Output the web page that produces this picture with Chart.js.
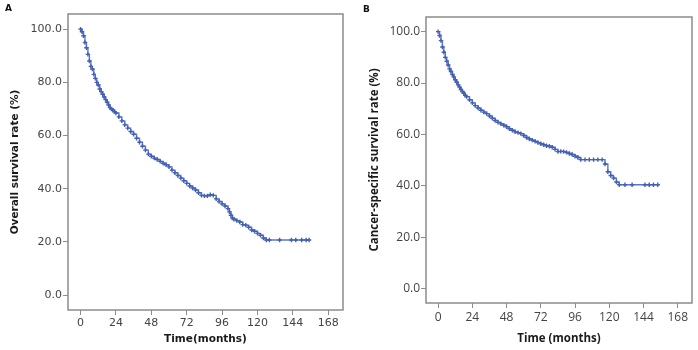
<!DOCTYPE html>
<html>
<head>
<meta charset="utf-8">
<script src="https://cdn.jsdelivr.net/npm/chart.js@4.4.1/dist/chart.umd.min.js"></script>
<style>
  body { margin: 0; background: #fff; }
  .panel { position: absolute; top: 0; width: 349px; height: 350px; }
  .tag { position: absolute; font: bold 9px "DejaVu Sans", sans-serif; color: #111; }
</style>
</head>
<body>
<div class="panel" style="left:0"><canvas id="chartA" width="349" height="350"></canvas></div>
<div class="panel" style="left:349px"><canvas id="chartB" width="349" height="350"></canvas></div>
<div class="tag" style="left:5px;top:3px">A</div>
<div class="tag" style="left:363px;top:4px">B</div>
<script>
const xTicks = [0, 24, 48, 72, 96, 120, 144, 168];
const yTicks = [0, 20, 40, 60, 80, 100];

// Panel A - overall survival
const monthsA = [0, 1, 2, 3, 4, 5, 6, 7, 8, 9, 10, 11, 12, 13, 14, 15, 16, 17, 18, 19, 20, 21, 22, 23, 24,
  26, 28, 30, 32, 34, 36, 38, 40, 42, 44, 46, 48, 50, 52, 54, 56, 58, 60, 62, 64, 66, 68, 70, 72, 74, 76, 78,
  80, 82, 84, 86, 88, 90, 92, 94, 96, 98, 100, 101, 102, 103, 104, 106, 108, 110, 112, 114, 116, 118, 120, 122,
  124, 126, 128, 135, 143, 146, 150, 153, 155];
const survA = [100, 99, 97.5, 95, 93, 90.5, 88, 86, 85, 83, 81.5, 80, 79, 77.5, 76.5, 75.5, 74.5, 73.5, 72.5, 71.5, 70.5, 70, 69.5, 69, 68.5,
  67, 65.5, 64, 62.8, 61.5, 60.5, 59, 57.5, 56, 54.5, 53, 52.2, 51.5, 51, 50.3, 49.6, 49, 48.2, 47, 46, 45, 44, 43, 42, 41, 40.3, 39.5,
  38.5, 37.5, 37.3, 37.3, 37.8, 37.5, 36.2, 35.2, 34.3, 33.5, 32.5, 31.3, 30, 29, 28.5, 28, 27.5, 26.5, 26.3, 25.5, 24.5, 24, 23.2, 22.5,
  21.5, 20.7, 20.7, 20.7, 20.7, 20.7, 20.7, 20.7, 20.7];

// Panel B - cancer-specific survival
const monthsB = [0, 1, 2, 3, 4, 5, 6, 7, 8, 9, 10, 11, 12, 13, 14, 15, 16, 17, 18, 19, 20, 22, 24, 26, 28, 30,
  32, 34, 36, 38, 40, 42, 44, 46, 48, 50, 52, 54, 56, 58, 60, 62, 64, 66, 68, 70, 72, 74, 76, 78, 80, 82, 84,
  86, 88, 90, 92, 94, 96, 98, 100, 103, 106, 109, 112, 115, 117, 119, 121, 123, 125, 127, 131, 136, 145, 148, 151, 154];
const survB = [100, 98.5, 96.5, 94, 92, 90, 88.5, 87, 85.5, 84.5, 83.3, 82.3, 81.3, 80.3, 79.3, 78.4, 77.5, 76.7, 76, 75.2, 74.7, 73.5, 72.3, 71.2, 70.3, 69.4,
  68.7, 68.1, 67.2, 66.3, 65.4, 64.7, 64.1, 63.6, 63, 62.2, 61.6, 61, 60.7, 60.3, 59.6, 58.8, 58.2, 57.8, 57.3, 56.8, 56.4, 56, 55.6, 55.4, 55, 54.2, 53.3,
  53.4, 53.3, 53, 52.6, 52.2, 51.5, 51, 50.2, 50.2, 50.2, 50.2, 50.2, 50.2, 48.5, 45.5, 44, 43, 41.5, 40.4, 40.4, 40.4, 40.4, 40.4, 40.4, 40.4];

const frame = {
  id: 'frame',
  afterDraw(chart) {
    const a = chart.chartArea, ctx = chart.ctx;
    ctx.save();
    ctx.strokeStyle = '#8c8c8c';
    ctx.lineWidth = 1.5;
    ctx.strokeRect(a.left, a.top, a.right - a.left, a.bottom - a.top);
    ctx.restore();
  }
};

function makeChart(id, months, surv, cfg) {
  const points = months.map((m, i) => ({ x: m, y: surv[i] }));
  return new Chart(document.getElementById(id), {
    type: 'line',
    data: {
      datasets: [{
        data: points,
        stepped: true,
        borderColor: '#5b77c6',
        borderWidth: 1.4,
        pointStyle: 'cross',
        pointRadius: 2.2,
        pointBorderWidth: 1.4,
        pointBorderColor: '#4360b4',
        pointBackgroundColor: '#4360b4'
      }]
    },
    options: {
      responsive: false,
      animation: false,
      layout: { padding: { top: cfg.top, right: cfg.right, left: cfg.left, bottom: 0 } },
      plugins: { legend: { display: false }, tooltip: { enabled: false } },
      scales: {
        x: {
          type: 'linear',
          min: -8.5,
          max: 178,
          afterBuildTicks: axis => { axis.ticks = xTicks.map(v => ({ value: v })); },
          afterFit: axis => { axis.height = cfg.xh; },
          grid: { drawOnChartArea: false, tickLength: 5, color: '#8c8c8c' },
          border: { display: false },
          ticks: { color: '#444', font: cfg.tickFont, padding: 2, maxRotation: 0 },
          title: { display: true, text: cfg.xTitle, color: '#1a1a1a', font: cfg.titleFont, padding: { top: cfg.xtPad } }
        },
        y: {
          min: -5.6,
          max: 105.7,
          afterBuildTicks: axis => { axis.ticks = yTicks.map(v => ({ value: v })); },
          afterFit: axis => { axis.width = cfg.yw; },
          grid: { drawOnChartArea: false, tickLength: 5, color: '#8c8c8c' },
          border: { display: false },
          ticks: { color: '#444', font: cfg.tickFont, padding: 1, callback: v => v.toFixed(1) },
          title: { display: true, text: cfg.yTitle, color: '#1a1a1a', font: cfg.titleFont, padding: 0 }
        }
      }
    },
    plugins: [frame]
  });
}

makeChart('chartA', monthsA, survA, {
  top: 14, right: 6, left: 9, xh: 40, yw: 59, xtPad: 5,
  xTitle: 'Time(months)', yTitle: 'Overall survival rate (%)',
  tickFont: { family: 'DejaVu Sans', size: 11 },
  titleFont: { family: 'DejaVu Sans', size: 10.5, weight: 'bold' }
});

makeChart('chartB', monthsB, survB, {
  top: 17, right: 6, left: 19, xh: 47, yw: 58, xtPad: 3,
  xTitle: 'Time (months)', yTitle: 'Cancer-specific survival rate (%)',
  tickFont: { family: 'Open Sans', size: 12 },
  titleFont: { family: 'Open Sans', size: 11.5, weight: 'bold' }
});
</script>
</body>
</html>
